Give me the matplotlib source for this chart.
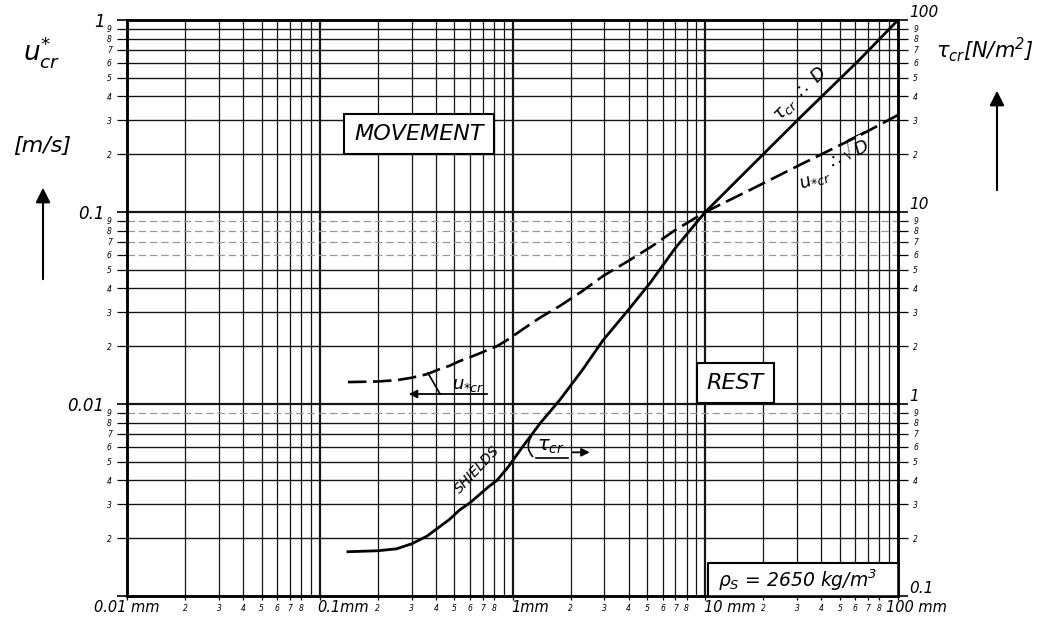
import numpy as np
import matplotlib
matplotlib.use('Agg')
import matplotlib.pyplot as plt
from matplotlib.ticker import FixedLocator, FixedFormatter, NullFormatter
from matplotlib.patches import FancyArrowPatch

plt.rcParams['font.family'] = ['DejaVu Sans']
plt.rcParams['font.style'] = 'italic'
plt.rcParams['mathtext.fontset'] = 'dejavusans'

# grain diameter D [mm]
D_mm = [0.14, 0.2, 0.25, 0.3, 0.36, 0.42, 0.47, 0.53, 0.6, 0.68, 0.75, 0.83, 0.95,
        1.13, 1.4, 1.76, 2.3, 2.95, 4, 5.2, 7, 10, 17, 31, 63, 100]
# critical bed shear stress tau_cr [N/m2] (Shields, right axis)
tau_cr = [0.17, 0.172, 0.176, 0.187, 0.205, 0.23, 0.25, 0.28, 0.305, 0.34, 0.37, 0.40, 0.47,
          0.60, 0.80, 1.05, 1.5, 2.15, 3.1, 4.3, 6.5, 10, 17, 31, 62, 100]
# critical shear velocity u*_cr [m/s] (left axis)
u_cr = [0.013, 0.0131, 0.0133, 0.0137, 0.0143, 0.0152, 0.0158, 0.0167, 0.0175, 0.0184, 0.0192, 0.020, 0.0217,
        0.0245, 0.0283, 0.0324, 0.0387, 0.0464, 0.0557, 0.0656, 0.0806, 0.10, 0.13, 0.176, 0.25, 0.32]

x_decades = [0.01, 0.1, 1, 10, 100]
x_labels = ['0.01 mm', '0.1mm', '1mm', '10 mm', '100 mm']
u_decades = [0.001, 0.01, 0.1, 1]
u_labels = ['', '0.01', '0.1', '1']
tau_decades = [0.1, 1, 10, 100]
tau_labels = ['0.1', '1', '10', '100']
subs = [2, 3, 4, 5, 6, 7, 8, 9]

ink = '#151515'

fig = plt.figure(figsize=(10.48, 6.21), dpi=100)
ax = fig.add_axes([0.1212, 0.0403, 0.7357, 0.9275])
ax.set_xscale('log')
ax.set_yscale('log')
ax.set_xlim(x_decades[0], x_decades[-1])
ax.set_ylim(u_decades[0], u_decades[-1])

# log paper grid
faint_u = [0.06, 0.07, 0.08, 0.09, 0.009]
for d in x_decades[:-1]:
    for s in subs:
        ax.axvline(d * s, color=ink, lw=0.9, zorder=1)
for d in x_decades[1:-1]:
    ax.axvline(d, color=ink, lw=1.6, zorder=1)
for d in u_decades[:-1]:
    for s in subs:
        v = d * s
        if any(abs(v - f) < 1e-9 for f in faint_u):
            ax.axhline(v, color='#999999', lw=0.9, ls=(0, (6, 3)), zorder=1)
        else:
            ax.axhline(v, color=ink, lw=1.0, zorder=1)
for d in u_decades[1:-1]:
    ax.axhline(d, color=ink, lw=1.6, zorder=1)

for sp in ax.spines.values():
    sp.set_linewidth(1.8)

ax.yaxis.set_major_locator(FixedLocator(u_decades))
ax.yaxis.set_major_formatter(FixedFormatter(u_labels))
u_minor = [d * s for d in u_decades[:-1] for s in subs]
ax.yaxis.set_minor_locator(FixedLocator(u_minor))
ax.yaxis.set_minor_formatter(FixedFormatter([str(s) for d in u_decades[:-1] for s in subs]))
ax.tick_params(axis='y', which='major', length=7, width=1.2, labelsize=12, pad=9)
ax.tick_params(axis='y', which='minor', length=7, width=0.9, labelsize=5.5, pad=4)

ax.xaxis.set_major_locator(FixedLocator(x_decades))
ax.xaxis.set_major_formatter(NullFormatter())
x_minor = [d * s for d in x_decades[:-1] for s in subs[:-1]]
ax.xaxis.set_minor_locator(FixedLocator(x_minor))
ax.xaxis.set_minor_formatter(FixedFormatter([str(s) for d in x_decades[:-1] for s in subs[:-1]]))
ax.tick_params(axis='x', which='both', length=3, width=0.9, labelsize=5.5, pad=3)

x_label_dx = [0, -1.5, -1, -1, -9]
x_label_ha = ['center', 'left', 'left', 'left', 'left']
for d, lab, dx, ha in zip(x_decades, x_labels, x_label_dx, x_label_ha):
    ax.annotate(lab, xy=(d, 0), xycoords=('data', 'axes fraction'),
                xytext=(dx, -8), textcoords='offset points',
                ha=ha, va='center', fontsize=10.5, annotation_clip=False)

# critical shear velocity (dashed)
ax.plot(D_mm, u_cr, color='black', lw=1.9, dashes=(7, 2.5), zorder=5)

ax2 = ax.twinx()
ax2.set_yscale('log')
ax2.set_ylim(tau_decades[0], tau_decades[-1])
ax2.yaxis.set_major_locator(FixedLocator(tau_decades))
ax2.yaxis.set_major_formatter(FixedFormatter(tau_labels))
tau_minor = [d * s for d in tau_decades[:-1] for s in subs]
ax2.yaxis.set_minor_locator(FixedLocator(tau_minor))
ax2.yaxis.set_minor_formatter(FixedFormatter([str(s) for d in tau_decades[:-1] for s in subs]))
ax2.tick_params(axis='y', which='major', length=7, width=1.2, labelsize=11, pad=1)
ax2.tick_params(axis='y', which='minor', length=7, width=0.9, labelsize=5.5, pad=4)
for lab in ax2.yaxis.get_majorticklabels():
    lab.set_verticalalignment('bottom')
for sp in ax2.spines.values():
    sp.set_linewidth(1.8)

# Shields critical shear stress (solid)
ax2.plot(D_mm, tau_cr, color='black', lw=2.0, zorder=5)

# region labels
box = dict(boxstyle='square,pad=0.45', fc='white', ec='black', lw=1.5)
ax.text(0.327, 0.255, 'MOVEMENT', fontsize=16, ha='center', va='center', bbox=box, zorder=6)
ax.text(14.3, 0.01286, 'REST', fontsize=16, ha='center', va='center', bbox=box, zorder=6)

# density box in the lower right corner
ax.fill_between([10.3, 100], 0.001, 0.00149, color='white', zorder=5.5)
ax.plot([10.3, 10.3, 100], [0.001, 0.00149, 0.00149], color='black', lw=1.5, zorder=6)
ax.text(11.6, 0.00121, r'$\rho_S$ = 2650 kg/m$^3$', fontsize=13.5, ha='left', va='center', zorder=7)

# curve annotations
ax.text(0.59, 0.01256, r'$u_{*cr}$', fontsize=13, ha='center', va='center', zorder=6)
ax.annotate('', xy=(0.28, 0.01127), xytext=(0.764, 0.01127),
            arrowprops=dict(arrowstyle='-|>', color='black', lw=1.3, mutation_scale=12), zorder=6)
ax.plot([0.364, 0.421], [0.0145, 0.01127], color='black', lw=1.2, zorder=6)

ax.text(1.57, 0.00602, r'$\tau_{cr}$', fontsize=14, ha='center', va='center', zorder=6)
ax.annotate('', xy=(1.30, 0.0052), xytext=(1.27, 0.0069),
            arrowprops=dict(arrowstyle='-', color='black', lw=1.2,
                            connectionstyle='arc3,rad=0.45'), zorder=6)
ax.plot([1.33, 1.93], [0.00525, 0.00525], color='black', lw=1.2, zorder=6)
ax.annotate('', xy=(2.6, 0.0056), xytext=(1.98, 0.0056),
            arrowprops=dict(arrowstyle='-|>', color='black', lw=1.3, mutation_scale=12), zorder=6)

ax.text(0.655, 0.00455, 'SHIELDS', fontsize=10, rotation=47, ha='center', va='center', zorder=6)

ax.text(31.0, 0.412, r'$\tau_{cr}$ $\therefore$ D', fontsize=13, rotation=45,
        ha='center', va='center', zorder=6)
ax.text(55.0, 0.203, r'$\therefore\sqrt{D}$', fontsize=13, rotation=27,
        ha='center', va='center', zorder=6)
ax.text(37.1, 0.147, r'$u_{*cr}$', fontsize=13, rotation=20,
        ha='center', va='center', zorder=6)

# axis titles outside the frame
W, H = 1048.0, 621.0
fig.text(42 / W, 1 - 52 / H, r'$u^{*}_{cr}$', fontsize=19, ha='center', va='center')
fig.text(42 / W, 1 - 146 / H, '[m/s]', fontsize=16, ha='center', va='center')
fig.text(985 / W, 1 - 50 / H, r'$\tau_{cr}$[N/m$^2$]', fontsize=15, ha='center', va='center')
for x0, y0, y1 in [(43, 282, 185), (997, 193, 88)]:
    fig.add_artist(FancyArrowPatch((x0 / W, 1 - y0 / H), (x0 / W, 1 - y1 / H),
                                   transform=fig.transFigure, arrowstyle='-|>',
                                   mutation_scale=22, lw=1.5, color='black'))

fig.savefig('out.png', dpi=100)
